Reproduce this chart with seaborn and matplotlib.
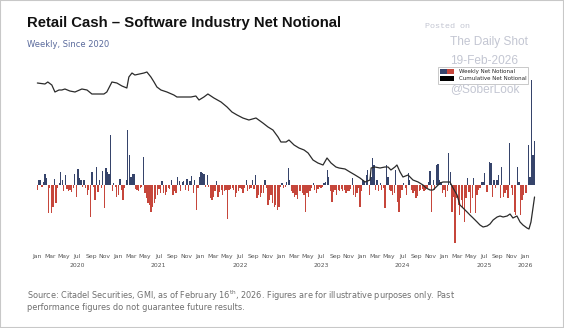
import matplotlib
matplotlib.use("Agg")
import matplotlib.pyplot as plt
import matplotlib.dates as mdates
from matplotlib.patches import Patch, Rectangle
from matplotlib.legend_handler import HandlerTuple
import numpy as np
import pandas as pd
import seaborn as sns

# ---------------- data (arbitrary units) ----------------
weekly_2020 = [-5, 5, 5, -2, 3, 11, 7, -28, -3, -28, -22, 6, -18, -3, 2, 13, 5, -6, 10, -4,
               -6, -5, -7, -3, 11, -12, 16, 7, 5, -2, 5, -3, -10, -5, -32, 13, -2, -15, 18, -7,
               5, -3, 14, -23, 17, 13, 11, 50, -6, 2, -2, -12]
weekly_2021 = [-10, 6, -5, -15, -3, 5, 55, 30, 8, 11, 11,
               -4, -5, -6, -3, -2, 28, -8, -13, -18, -20,
               -27, -22, -18, -14, -10, -4, -8, 4, -8, -10,
               -7, -3, -4, 5, -10, -6, -8, 8, 4, -6,
               3, 4, -5, 6, -6, 4, 9, -8, 5, -25, -3, 8]
weekly_2022 = [13, 12, 11, -2, 10, -2, -13, -15, -12, -6, 4, -12, -7, -5, -10, -6, -5, -34, -5, -4,
               -3, -5, -12, -8, -6, -3, -4, -8, -3, 5, -6, -4, -3, 5, -4, 10, -13, -10, -12, -8,
               -8, 5, -3, -20, -15, -10, -18, -22, -20, -25, -22, -2]
weekly_2023 = [2, -3, -2, 3, 17, 5, -6, -8, -12, -10, -14, -6, -6, -8, -10, -27, -8, -12, -6, -3,
               2, -5, -8, -4, -2, -3, -2, 2, 3, 15, 8, -6, -17, -7, -5, -10, -5, -6, -4, -6,
               -5, -8, -6, -6, -4, 7, -10, -12, -8, -3, -22, -6]
weekly_2024 = [5, 3, 10, 15, -10, 8, 27, 20, -5, 5, -6, 2, -5, -3, -23, 20, 8, -5, -6, -10,
               -8, 15, -17, -27, -13, -5, 2, -3, -10, 12, 5, -5, -8, -6, -13, -11, -6, -5, -4, -6,
               -5, -3, 3, 14, -27, 5, -5, 20, 21, 5, 3, -8]
weekly_2025 = [-5, -12, -6, 32, 13, -27, -12, -58, -13, -20, -30, -15, -23, -37, -13, 7, -7, -28, -13, 7,
               -28, -10, -5, -3, 3, 3, 12, -7, -7, 23, 22, -12, 5, -3, 5, 10, -13, 18, -12, -8,
               -5, -13, 42, -3, -10, -27, -30, 18, 3, -30, -15, -10]
weekly_2026 = [-8, -8, 40, 8, 105, 30, 44]

cum_dates = ["2020-01-03", "2020-02-06", "2020-02-19", "2020-03-08", "2020-03-22", "2020-04-09",
             "2020-04-22", "2020-05-06", "2020-05-28", "2020-06-20", "2020-07-21", "2020-08-13",
             "2020-09-04", "2020-09-27", "2020-10-28", "2020-11-10", "2020-12-03", "2020-12-25",
             "2021-01-17", "2021-02-08", "2021-02-17", "2021-03-03", "2021-03-16", "2021-04-26",
             "2021-05-09", "2021-05-27", "2021-06-10", "2021-06-23", "2021-07-11", "2021-08-07",
             "2021-09-07", "2021-09-21", "2021-10-22", "2021-11-23", "2021-12-15", "2021-12-29",
             "2022-01-20", "2022-02-07", "2022-03-06", "2022-04-07", "2022-05-04", "2022-05-26",
             "2022-06-18", "2022-07-14", "2022-08-10", "2022-09-11", "2022-10-12", "2022-11-04",
             "2022-11-26", "2022-12-19", "2023-01-01", "2023-01-24", "2023-02-06", "2023-03-01",
             "2023-03-23", "2023-04-15", "2023-05-03", "2023-05-25", "2023-06-16", "2023-07-09",
             "2023-07-27", "2023-08-14", "2023-09-05", "2023-09-19", "2023-10-16", "2023-11-07",
             "2023-11-30", "2023-12-22", "2024-01-14", "2024-02-05", "2024-02-10", "2024-02-27",
             "2024-03-21", "2024-04-12", "2024-04-26", "2024-05-09", "2024-05-27", "2024-06-05",
             "2024-06-19", "2024-07-02", "2024-07-25", "2024-08-16", "2024-09-08", "2024-09-30",
             "2024-10-14", "2024-11-01", "2024-11-14", "2024-11-28", "2024-12-16", "2024-12-29",
             "2025-01-29", "2025-02-12", "2025-03-02", "2025-03-15", "2025-03-29", "2025-04-16",
             "2025-04-29", "2025-05-13", "2025-05-31", "2025-06-13", "2025-06-27", "2025-07-15",
             "2025-07-28", "2025-08-11", "2025-08-29", "2025-09-11", "2025-09-25", "2025-10-13",
             "2025-10-26", "2025-11-08", "2025-11-26", "2025-12-10", "2025-12-23", "2026-01-10",
             "2026-01-19", "2026-01-28", "2026-02-06", "2026-02-13"]
cum_values = [102, 101, 103, 100, 93, 95, 95, 96, 94, 93, 96, 95,
              91, 91, 91, 93, 103, 102, 99, 97, 108, 112, 110, 112,
              113, 108, 103, 98, 95, 93, 90, 88, 88, 88, 89, 85,
              88, 91, 87, 83, 78, 73, 70, 67, 65, 67, 62, 58,
              55, 48, 43, 43, 45, 40, 37, 35, 32, 25, 22, 20,
              27, 22, 18, 17, 16, 13, 10, 7, 3, 5, 17, 18,
              17, 18, 18, 15, 18, 20, 13, 8, 10, 5, 3, 0,
              -3, -5, -5, -2, 2, 3, 3, -3, -10, -20, -23, -27,
              -30, -33, -37, -40, -42, -41, -39, -35, -32, -31, -32, -31,
              -29, -33, -31, -37, -40, -43, -44, -37, -23, -12]

month_names = ["Jan", "Mar", "May", "Jul", "Sep", "Nov"]
years = [2020, 2021, 2022, 2023, 2024, 2025, 2026]

title = "Retail Cash \u2013 Software Industry Net Notional"
subtitle = "Weekly, Since 2020"
source = ("Source: Citadel Securities, GMI, as of February 16$^{\\mathrm{th}}$, 2026. Figures are for "
          "illustrative purposes only. Past\nperformance figures do not guarantee future results.")

# ---------------- build frames ----------------
weekly = weekly_2020 + weekly_2021 + weekly_2022 + weekly_2023 + weekly_2024 + weekly_2025 + weekly_2026
bars = pd.DataFrame({"date": pd.date_range("2020-01-03", periods=len(weekly), freq="W-FRI"),
                     "value": weekly})
line = pd.DataFrame({"date": pd.to_datetime(cum_dates), "value": cum_values})

NAVY = "#36446b"
RED = "#c6463b"

sns.set_theme(style="white")
plt.rcParams["font.family"] = ["DejaVu Sans"]

fig = plt.figure(figsize=(5.64, 3.28), dpi=100)
fig.patch.set_facecolor("white")
ax = fig.add_axes([30 / 564, 78 / 328, 515 / 564, 185 / 328])

colors = [NAVY if v >= 0 else RED for v in bars["value"]]
ax.bar(bars["date"], bars["value"], width=5.8, color=colors, linewidth=0, zorder=2)
sns.lineplot(data=line, x="date", y="value", ax=ax, color="#2b2b2b", linewidth=0.9, zorder=3)

ax.set_xlim(pd.Timestamp("2019-12-01"), pd.Timestamp("2026-04-01"))
ax.set_ylim(-65, 120)
ax.set_xlabel("")
ax.set_ylabel("")
ax.set_yticks([])
for s in ax.spines.values():
    s.set_visible(False)

ticks, labels = [], []
for y in years:
    for i, m in enumerate(month_names):
        if y == 2026 and i > 0:
            break
        ticks.append(pd.Timestamp(year=y, month=1 + 2 * i, day=1))
        if m == "Jul" or (y == 2026 and m == "Jan"):
            labels.append(f"{m}\n{y}")
        else:
            labels.append(m)
ax.set_xticks(ticks)
ax.set_xticklabels(labels, fontsize=4.4, color="#555555", linespacing=1.9)
ax.tick_params(axis="x", length=0, pad=3)

# legend
h_weekly = (Patch(facecolor=NAVY, edgecolor="none"), Patch(facecolor=RED, edgecolor="none"))
h_cum = Patch(facecolor="black", edgecolor="none")
leg = ax.legend([h_weekly, h_cum], ["Weekly Net Notional", "Cumulative Net Notional"],
                handler_map={tuple: HandlerTuple(ndivide=None, pad=0)},
                loc="upper left", bbox_to_anchor=(438 / 564, 1 - 67 / 328),
                bbox_transform=fig.transFigure, fontsize=4.0, frameon=True, fancybox=False,
                edgecolor="#b0b0b0", borderpad=0.4, handlelength=2.5, handleheight=0.9,
                labelspacing=0.3, handletextpad=0.8, borderaxespad=0)
leg.get_frame().set_linewidth(0.6)
leg.set_zorder(5)

# titles
fig.text(27 / 564, 1 - 23 / 328, title, fontsize=10.7, fontweight="bold", color="#111111",
         va="center", ha="left", family="Liberation Sans")
fig.text(27 / 564, 1 - 44.5 / 328, subtitle, fontsize=6.0, color="#5a6a9c", va="center", ha="left")
fig.text(27 / 564, 1 - 300 / 328, source, fontsize=5.9, color="#6e6e6e", va="center", ha="left",
         linespacing=1.0)

# watermark
wm = "#c3c6d2"
fig.text(425 / 564, 1 - 26 / 328, "Posted on", fontsize=6, color=wm, va="center", ha="left",
         family="Liberation Mono")
fig.text(450 / 564, 1 - 42 / 328, "The Daily Shot", fontsize=8.6, color=wm, va="center", ha="left",
         family="Liberation Sans")
fig.text(450 / 564, 1 - 61 / 328, "19-Feb-2026", fontsize=8.6, color=wm, va="center", ha="left",
         family="Liberation Sans")
fig.text(450 / 564, 1 - 89 / 328, "@SoberLook", fontsize=8.6, color=wm, va="center", ha="left",
         family="Liberation Sans", zorder=6)

fig.add_artist(Rectangle((0, 0), 1, 1, transform=fig.transFigure, fill=False,
                         edgecolor="#c8c8c8", linewidth=1.5))

fig.savefig("out.png", dpi=100, facecolor="white")
